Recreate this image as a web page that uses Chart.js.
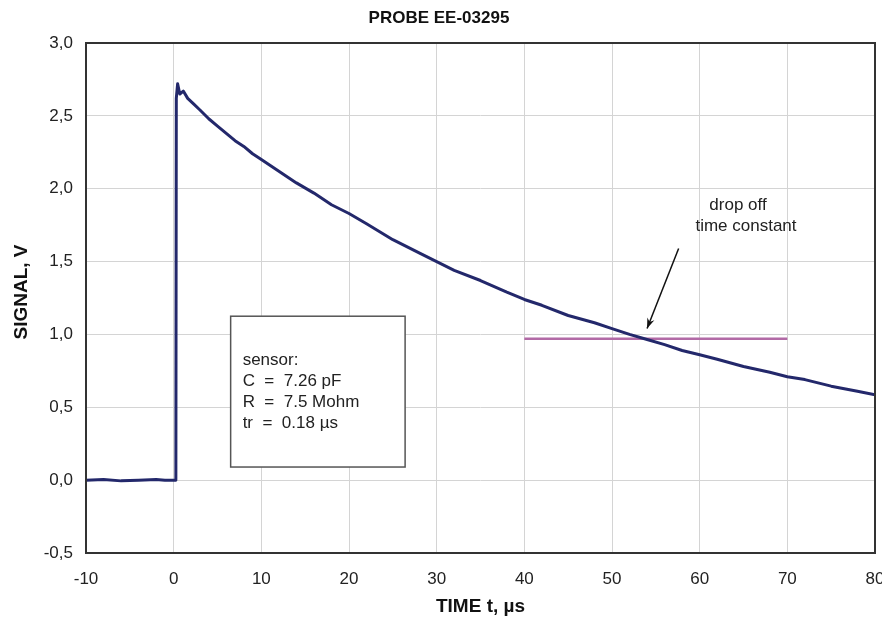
<!DOCTYPE html>
<html>
<head>
<meta charset="utf-8">
<script src="https://cdn.jsdelivr.net/npm/chart.js@4.4.0/dist/chart.umd.min.js"></script>
<style>
html, body { margin: 0; padding: 0; background: #fff; }
</style>
</head>
<body>
<canvas id="chartProbe" width="882" height="627"></canvas>
<script>
// signal trace (time in µs, signal in V)
const timeUs = [-10, -8, -6, -4, -2, -1, 0, 0.25, 0.3, 0.45, 0.7, 1.1, 1.6, 2.3, 3, 4, 5, 6, 7, 8, 9, 10,
    12, 14, 16, 18, 20, 22, 25, 28, 30, 32, 35, 38, 40, 42, 45, 48, 50, 52, 54, 56, 58, 60,
    62, 65, 68, 70, 72, 75, 78, 80];
const signalV = [0.00, 0.005, -0.005, 0.00, 0.005, 0.00, 0.00, 0.00, 2.62, 2.72, 2.65, 2.67, 2.62, 2.58, 2.54, 2.48, 2.43, 2.38, 2.33, 2.29, 2.24, 2.20,
    2.12, 2.04, 1.97, 1.89, 1.83, 1.76, 1.65, 1.56, 1.50, 1.44, 1.37, 1.29, 1.24, 1.20, 1.13, 1.08, 1.04, 1.00, 0.965, 0.93, 0.89, 0.86,
    0.83, 0.78, 0.74, 0.71, 0.69, 0.645, 0.61, 0.585];

// horizontal marker at the time-constant level
const markerT = [40, 70];
const markerV = [0.97, 0.97];

const sensorLines = ["sensor:", "C  =  7.26 pF", "R  =  7.5 Mohm", "tr  =  0.18 \u00b5s"];
const noteLines = ["drop off", "time constant"];

let tracePoints = timeUs.map(function (t, i) { return { x: t, y: signalV[i] }; });
let markerPoints = markerT.map(function (t, i) { return { x: t, y: markerV[i] }; });

let overlay = {
    id: 'overlay',
    beforeDatasetsDraw(chart) {
        let ctx = chart.ctx;
        let xs = chart.scales.x, ys = chart.scales.y;
        // sensor info box
        let bx1 = xs.getPixelForValue(6.5), bx2 = xs.getPixelForValue(26.4);
        let by1 = ys.getPixelForValue(1.125), by2 = ys.getPixelForValue(0.09);
        ctx.save();
        ctx.fillStyle = '#fff';
        ctx.fillRect(bx1, by1, bx2 - bx1, by2 - by1);
        ctx.strokeStyle = '#555';
        ctx.lineWidth = 1.5;
        ctx.strokeRect(bx1, by1, bx2 - bx1, by2 - by1);
        ctx.fillStyle = '#222';
        ctx.font = '17px "Liberation Sans", Arial, sans-serif';
        ctx.textBaseline = 'middle';
        sensorLines.forEach(function (line, i) {
            ctx.fillText(line, bx1 + 12, by1 + 44 + i * 21);
        });
        ctx.restore();
    },
    afterDraw(chart) {
        let ctx = chart.ctx;
        let area = chart.chartArea;
        let xs = chart.scales.x, ys = chart.scales.y;
        ctx.save();
        // frame
        ctx.strokeStyle = '#333';
        ctx.lineWidth = 2;
        ctx.strokeRect(area.left, area.top, area.right - area.left, area.bottom - area.top);

        // titles
        ctx.fillStyle = '#111';
        ctx.textAlign = 'center';
        ctx.textBaseline = 'middle';
        ctx.font = 'bold 17px "Liberation Sans", Arial, sans-serif';
        ctx.fillText('PROBE EE-03295', 439, 18);
        ctx.font = 'bold 19px "Liberation Sans", Arial, sans-serif';
        ctx.fillText('TIME t, \u00b5s', (area.left + area.right) / 2, 607);
        ctx.save();
        ctx.translate(22, 292);
        ctx.rotate(-Math.PI / 2);
        ctx.fillText('SIGNAL, V', 0, 0);
        ctx.restore();

        // note text
        ctx.fillStyle = '#222';
        ctx.font = '17px "Liberation Sans", Arial, sans-serif';
        ctx.fillText(noteLines[0], 738, 205);
        ctx.fillText(noteLines[1], 746, 226);

        // arrow
        let ax1 = xs.getPixelForValue(57.6), ay1 = ys.getPixelForValue(1.59);
        let ax2 = xs.getPixelForValue(54.0), ay2 = ys.getPixelForValue(1.04);
        let ang = Math.atan2(ay2 - ay1, ax2 - ax1);
        ctx.strokeStyle = '#111';
        ctx.lineWidth = 1.5;
        ctx.beginPath();
        ctx.moveTo(ax1, ay1);
        ctx.lineTo(ax2, ay2);
        ctx.stroke();
        ctx.fillStyle = '#111';
        ctx.beginPath();
        ctx.moveTo(ax2, ay2);
        ctx.lineTo(ax2 - 11 * Math.cos(ang - 0.35), ay2 - 11 * Math.sin(ang - 0.35));
        ctx.lineTo(ax2 - 7 * Math.cos(ang), ay2 - 7 * Math.sin(ang));
        ctx.lineTo(ax2 - 11 * Math.cos(ang + 0.35), ay2 - 11 * Math.sin(ang + 0.35));
        ctx.closePath();
        ctx.fill();
        ctx.restore();
    }
};

let ctxProbe = document.getElementById('chartProbe').getContext('2d');
new Chart(ctxProbe, {
    type: 'line',
    data: {
        datasets: [{
            label: 'signal',
            data: tracePoints,
            borderColor: '#23286b',
            borderWidth: 3,
            borderJoinStyle: 'round',
            pointRadius: 0,
            tension: 0,
            fill: false
        }, {
            label: 'time constant',
            data: markerPoints,
            borderColor: '#b26aa6',
            borderWidth: 2.5,
            pointRadius: 0,
            fill: false
        }]
    },
    options: {
        responsive: false,
        animation: false,
        layout: { autoPadding: false, padding: { left: 0, top: 43, right: 7, bottom: 0 } },
        plugins: {
            legend: { display: false },
            tooltip: { enabled: false }
        },
        scales: {
            x: {
                type: 'linear',
                min: -10,
                max: 80,
                afterFit: function (scale) {
                    scale.height = 74;
                    scale.paddingLeft = 0;
                    scale.paddingRight = 0;
                },
                grid: { color: '#d4d4d4', lineWidth: 1, drawTicks: false },
                border: { display: false },
                ticks: {
                    stepSize: 10,
                    padding: 16,
                    maxRotation: 0,
                    color: '#222',
                    font: { family: '"Liberation Sans", Arial, sans-serif', size: 17 }
                }
            },
            y: {
                min: -0.5,
                max: 3.0,
                afterFit: function (scale) {
                    scale.width = 86;
                    scale.paddingTop = 0;
                    scale.paddingBottom = 0;
                },
                grid: { color: '#d4d4d4', lineWidth: 1, drawTicks: false },
                border: { display: false },
                ticks: {
                    stepSize: 0.5,
                    padding: 13,
                    color: '#222',
                    font: { family: '"Liberation Sans", Arial, sans-serif', size: 17 },
                    callback: function (value) { return value.toFixed(1).replace('.', ','); }
                }
            }
        }
    },
    plugins: [overlay]
});
</script>
</body>
</html>
